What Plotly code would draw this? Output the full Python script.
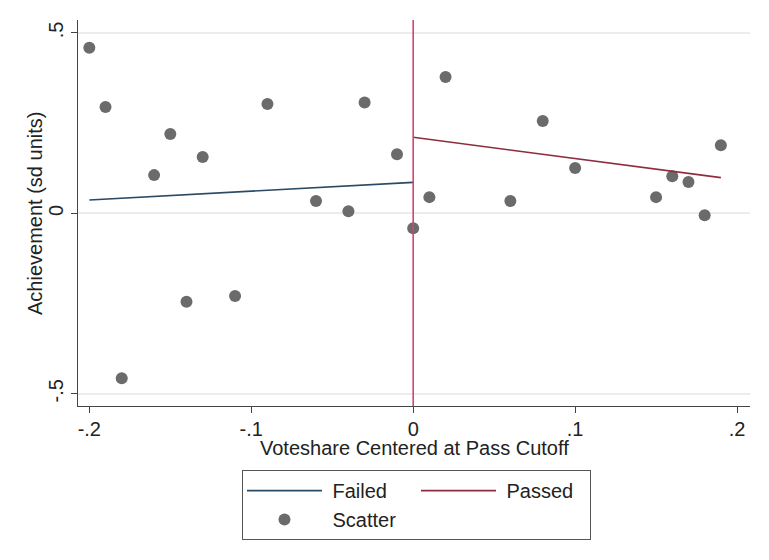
import plotly.graph_objects as go

# ---- data ----
scatter_x = [-0.20, -0.19, -0.18, -0.16, -0.15, -0.14, -0.13, -0.11, -0.09, -0.06, -0.04, -0.03, -0.01,
             0.00, 0.01, 0.02, 0.06, 0.08, 0.10, 0.15, 0.16, 0.17, 0.18, 0.19]
scatter_y = [0.459, 0.295, -0.457, 0.106, 0.220, -0.245, 0.156, -0.229, 0.303, 0.034, 0.006, 0.307, 0.164,
             -0.041, 0.045, 0.378, 0.034, 0.256, 0.126, 0.045, 0.103, 0.087, -0.005, 0.189]

failed_x = [-0.20, 0.00]
failed_y = [0.037, 0.086]
passed_x = [0.00, 0.19]
passed_y = [0.211, 0.099]

cutoff = 0.0

x_tickvals = [-0.2, -0.1, 0.0, 0.1, 0.2]
x_ticktext = ["-.2", "-.1", "0", ".1", ".2"]
y_tickvals = [-0.5, 0.0, 0.5]
y_ticktext = ["-.5", "0", ".5"]

x_title = "Voteshare Centered at Pass Cutoff"
y_title = "Achievement (sd units)"

FONT = "Liberation Sans, Arial, sans-serif"

fig = go.Figure()
fig.add_trace(go.Scatter(x=failed_x, y=failed_y, mode="lines", name=" Failed",
                         line=dict(color="#2b4a63", width=1.6), legendgroup="a"))
fig.add_trace(go.Scatter(x=scatter_x, y=scatter_y, mode="markers", name=" Scatter",
                         marker=dict(color="#6b6b6b", size=12), legendgroup="a"))
fig.add_trace(go.Scatter(x=passed_x, y=passed_y, mode="lines", name=" Passed",
                         line=dict(color="#8e2c40", width=1.6), legendgroup="b"))

fig.add_shape(type="line", xref="x", yref="paper", x0=cutoff, x1=cutoff, y0=0, y1=1,
              line=dict(color="#d4456a", width=1.6), layer="above")

fig.update_layout(
    width=769, height=560,
    margin=dict(l=78, r=19, t=20, b=154),
    paper_bgcolor="white", plot_bgcolor="white",
    font=dict(family=FONT, size=20, color="#222"),
    showlegend=True,
    legend=dict(orientation="h", traceorder="grouped", x=0.244, y=-0.166,
                xanchor="left", yanchor="top", bordercolor="#555", borderwidth=1,
                bgcolor="white", font=dict(size=20, color="#222"), entrywidth=84,
                itemwidth=75),
    xaxis=dict(range=[-0.207, 0.208], tickvals=x_tickvals, ticktext=x_ticktext,
               showgrid=False, zeroline=False, showline=True, linecolor="#444", linewidth=1,
               ticks="outside", ticklen=6, tickcolor="#444", ticklabelstandoff=-1),
    yaxis=dict(range=[-0.534, 0.536], tickvals=y_tickvals, ticktext=y_ticktext, tickangle=-90,
               showgrid=True, gridcolor="#ececec", gridwidth=1.5, zeroline=False,
               showline=True, linecolor="#444", linewidth=1,
               ticks="outside", ticklen=6, tickcolor="#444", ticklabelstandoff=0),
    annotations=[
        dict(text=x_title, xref="paper", yref="paper", x=0.5, y=-0.109,
             xanchor="center", yanchor="middle", showarrow=False, font=dict(size=20)),
        dict(text=y_title, xref="paper", yref="paper", x=-0.064, y=0.5, textangle=-90,
             xanchor="center", yanchor="middle", showarrow=False, font=dict(size=20)),
    ],
)

fig.write_html("out.html")
